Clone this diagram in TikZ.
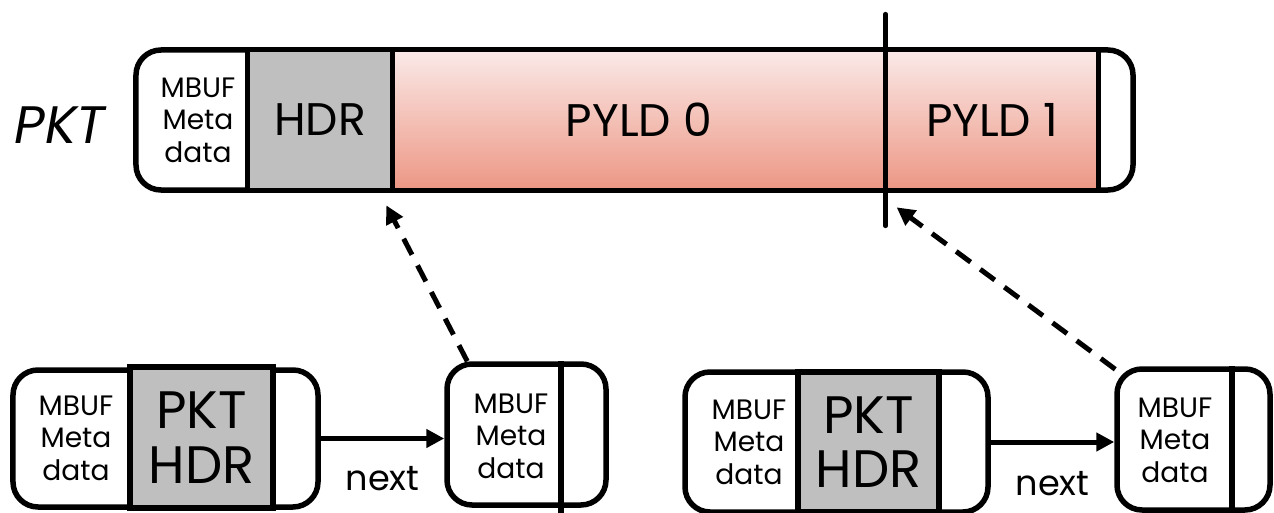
\documentclass[tikz,border=0pt]{standalone}
\usepackage{fontspec}
\setmainfont{Poppins}
\usetikzlibrary{arrows.meta}
\definecolor{hdrgray}{RGB}{191,191,191}
\definecolor{pyldtop}{RGB}{250,232,230}
\definecolor{pyldbot}{RGB}{237,152,134}

\begin{document}
\begin{tikzpicture}[x=0.2mm,y=-0.2mm,
        box/.style={draw,fill=white,line width=1.1mm,rounded corners=5mm,inner sep=0pt},
        cell/.style={inner sep=0pt,minimum height=27mm},
        pyld/.style={cell,top color=pyldtop,bottom color=pyldbot,font=\fontsize{26}{31}\selectfont},
        meta/.style={align=center,font=\fontsize{16}{18.5}\selectfont},
        hdr/.style={draw,fill=hdrgray,line width=1.1mm,inner sep=0pt,align=center,font=\fontsize{30}{31}\selectfont},
        sep/.style={line width=1.1mm},
        ptr/.style={line width=1mm,-{Triangle[length=3.6mm,width=3.6mm]}},
        link/.style={ptr,dash pattern=on 3.6mm off 2.4mm}]
            \useasboundingbox (0,0) rectangle (1274,513);
            % packet
            \node[font=\fontsize{30}{36}\selectfont\itshape] (pktlbl) at (60,125) {PKT};
            \node[box,minimum width=199.4mm,minimum height=28mm] (pkt) at (634.5,120) {};
            \node[meta] (pmeta) at (198,120) {MBUF\\Meta\\data};
            \node[cell,fill=hdrgray,minimum width=28.8mm,font=\fontsize{26}{31}\selectfont] (phdr) at (320,120) {HDR};
            \node[pyld,minimum width=98.8mm] (pyld0) at (639,120) {PYLD 0};
            \node[pyld,minimum width=42.4mm] (pyld1) at (992,120) {PYLD 1};
            \draw[sep] (phdr.north west) -- (phdr.south west);
            \draw[sep] (phdr.north east) -- (phdr.south east);
            \draw[sep] (pyld1.north east) -- (pyld1.south east);
            \draw[line width=0.9mm,line cap=round] ([yshift=7.6mm]pyld1.north west) -- ([yshift=-7.6mm]pyld1.south west);
            % first chain
            \node[box,minimum width=61mm,minimum height=27.4mm] (abox) at (165.5,438.5) {};
            \node[meta] (ameta) at (76,438) {MBUF\\Meta\\data};
            \node[hdr,line width=1.3mm,minimum width=28.6mm,minimum height=28.2mm] (ahdr) at (201.5,437.5) {PKT\\HDR};
            \node[box,minimum width=31.8mm,minimum height=28.2mm] (bbox) at (526.5,434.5) {};
            \node[meta] (bmeta) at (511,436) {MBUF\\Meta\\data};
            \draw[sep] ([xshift=6.9mm]bbox.north) -- ([xshift=6.9mm,yshift=-1mm]bbox.south);
            \draw[ptr] (abox.east) -- (abox.east -| bbox.west) node[midway,yshift=-8mm,font=\fontsize{20}{24}\selectfont] {next};
            % second chain
            \node[box,minimum width=60.6mm,minimum height=28mm] (cbox) at (836.5,442) {};
            \node[meta] (cmeta) at (749,442) {MBUF\\Meta\\data};
            \node[hdr,minimum width=28.2mm,minimum height=28mm] (chdr) at (868.5,442) {PKT\\HDR};
            \node[box,minimum width=30.6mm,minimum height=28.2mm] (dbox) at (1193.5,439.5) {};
            \node[meta] (dmeta) at (1175,440) {MBUF\\Meta\\data};
            \draw[sep] ([xshift=7.7mm]dbox.north) -- ([xshift=7.7mm]dbox.south);
            \draw[ptr] (cbox.east) -- (cbox.east -| dbox.west) node[midway,yshift=-8.4mm,font=\fontsize{20}{24}\selectfont] {next};
            % links into packet
            \draw[link] ([xshift=4.6mm]bbox.north west) -- ([xshift=-1.2mm,yshift=-3.5mm]phdr.south east);
            \draw[link] ([xshift=0.2mm,yshift=-0.6mm]dbox.north west) -- ([xshift=2.2mm,yshift=-3.9mm]pyld1.south west);
        \end{tikzpicture}
\end{document}
